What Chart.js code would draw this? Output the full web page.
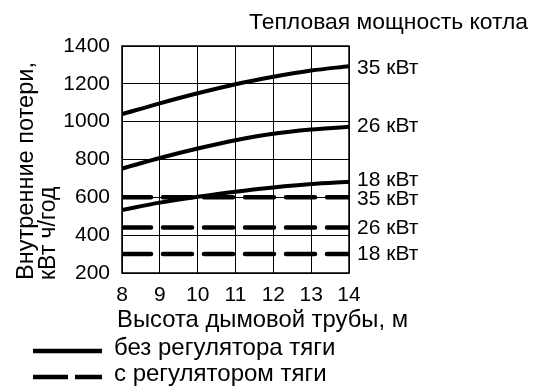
<!DOCTYPE html>
<html>
<head>
<meta charset="utf-8">
<script src="https://cdn.jsdelivr.net/npm/chart.js@4/dist/chart.umd.min.js"></script>
<style>
  html, body { margin: 0; padding: 0; background: #fff; }
  #chart { display: block; }
</style>
</head>
<body>
<canvas id="chart" width="533" height="386"></canvas>
<script>
// Chimney height, m
const heights = [8, 9, 10, 11, 12, 13, 14];

// Internal losses without draft regulator (kWh/year)
const noReg35 = [1040, 1097, 1150, 1198, 1237, 1270, 1293];
const noReg26 = [752, 808, 858, 902, 936, 958, 973];
const noReg18 = [533, 572, 603, 630, 652, 670, 682];

// Internal losses with draft regulator (constant)
const withReg35 = [600, 600, 600, 600, 600, 600, 600];
const withReg26 = [440, 440, 440, 440, 440, 440, 440];
const withReg18 = [300, 300, 300, 300, 300, 300, 300];

const seriesLabels = ['35 кВт', '26 кВт', '18 кВт', '35 кВт', '26 кВт', '18 кВт'];
const yTicks = [200, 400, 600, 800, 1000, 1200, 1400];

const FONT = '"Liberation Sans", Arial, sans-serif';

function toPoints(values) {
    return heights.map((h, i) => ({ x: h, y: values[i] }));
}

function solid(values) {
    return {
        data: toPoints(values),
        borderColor: '#000',
        borderWidth: 4,
        pointRadius: 0,
        tension: 0.4,
        cubicInterpolationMode: 'monotone',
        fill: false
    };
}

function dashed(values) {
    return {
        data: toPoints(values),
        borderColor: '#000',
        borderWidth: 4.5,
        borderDash: [29, 12],
        borderCapStyle: 'round',
        pointRadius: 0,
        tension: 0,
        fill: false
    };
}

// text squeezed/stretched horizontally to a given width
function fitText(ctx, text, x, y, width) {
    const natural = ctx.measureText(text).width;
    ctx.save();
    ctx.translate(x, y);
    ctx.scale(width / natural, 1);
    ctx.fillText(text, 0, 0);
    ctx.restore();
}

// Draws the titles, series labels and legend around the plot
const annotations = {
    id: 'annotations',
    afterDraw(chart) {
        const ctx = chart.ctx;
        const area = chart.chartArea;
        const yScale = chart.scales.y;
        ctx.save();
        ctx.fillStyle = '#000';
        ctx.strokeStyle = '#000';

        // plot frame
        ctx.lineWidth = 1.5;
        ctx.strokeRect(area.left, area.top, area.right - area.left, area.bottom - area.top);

        // series labels at the right end
        const ends = [noReg35, noReg26, noReg18, withReg35, withReg26, withReg18];
        const nudge = [2, -1, -2, 2, 1, 0];
        ctx.font = '21px ' + FONT;
        ctx.textBaseline = 'middle';
        ctx.textAlign = 'left';
        ends.forEach((vals, i) => {
            const y = yScale.getPixelForValue(vals[vals.length - 1]) + nudge[i];
            ctx.fillText(seriesLabels[i], area.right + 8, y);
        });

        ctx.textBaseline = 'alphabetic';

        // top title
        ctx.font = '22px ' + FONT;
        fitText(ctx, 'Тепловая мощность котла', 249, 29, 279);

        // x axis title
        ctx.font = '24px ' + FONT;
        fitText(ctx, 'Высота дымовой трубы, м', 117, 327, 291);

        // y axis title (two lines, rotated)
        ctx.font = '23px ' + FONT;
        ctx.save();
        ctx.translate(0, 280);
        ctx.rotate(-Math.PI / 2);
        fitText(ctx, 'Внутренние потери,', 0, 33, 218);
        ctx.fillText('кВт ч/год', 0, 55);
        ctx.restore();

        // legend
        ctx.font = '24px ' + FONT;
        ctx.lineWidth = 4.5;
        ctx.beginPath();
        ctx.moveTo(33, 351);
        ctx.lineTo(102, 351);
        ctx.stroke();
        ctx.fillText('без регулятора тяги', 114, 355);

        ctx.beginPath();
        ctx.moveTo(33, 377);
        ctx.lineTo(68, 377);
        ctx.moveTo(75, 377);
        ctx.lineTo(102, 377);
        ctx.stroke();
        ctx.fillText('с регулятором тяги', 114, 381);
        ctx.restore();
    }
};

new Chart(document.getElementById('chart'), {
    type: 'line',
    data: {
        datasets: [
            solid(noReg35), solid(noReg26), solid(noReg18),
            dashed(withReg35), dashed(withReg26), dashed(withReg18)
        ]
    },
    options: {
        responsive: false,
        animation: false,
        devicePixelRatio: 1,
        layout: { padding: { top: 46, right: 184, left: 0, bottom: 0 } },
        plugins: {
            legend: { display: false },
            tooltip: { enabled: false }
        },
        scales: {
            x: {
                type: 'linear',
                min: 8,
                max: 14,
                afterFit(scale) { scale.height = 113; },
                border: { display: false },
                grid: { color: '#000', lineWidth: 1, drawTicks: false },
                ticks: {
                    stepSize: 1,
                    padding: 10,
                    color: '#000',
                    font: { size: 21, family: FONT }
                }
            },
            y: {
                min: 200,
                max: 1400,
                afterFit(scale) { scale.width = 122; },
                afterBuildTicks(scale) { scale.ticks = yTicks.map(v => ({ value: v })); },
                border: { display: false },
                grid: { color: '#000', lineWidth: 1, drawTicks: false },
                ticks: {
                    padding: 12,
                    color: '#000',
                    font: { size: 21, family: FONT },
                    callback: v => String(v)
                }
            }
        }
    },
    plugins: [annotations]
});
</script>
</body>
</html>
